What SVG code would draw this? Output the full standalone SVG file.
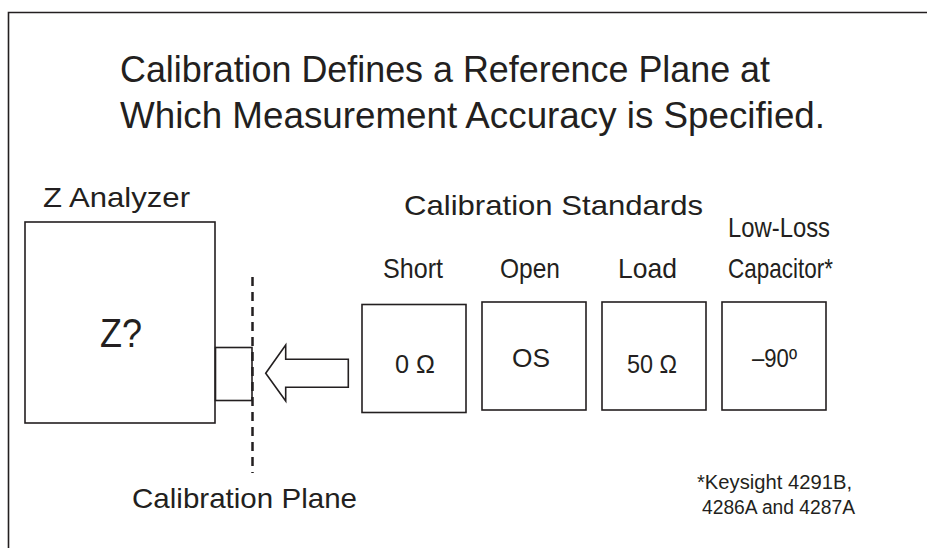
<svg xmlns="http://www.w3.org/2000/svg" width="927" height="548" viewBox="0 0 927 548">
<style>
text{font-family:"Liberation Sans Narrow","Liberation Sans",Arial,sans-serif;fill:#231f20}
.box{fill:#fff;stroke:#231f20;stroke-width:1.6}
.t1{font-size:37px}
.t2{font-size:28px}
.t3{font-size:25px}
.t4{font-size:20px}
</style>
<rect width="927" height="548" fill="#fff"/>
<path d="M8.5,548 V12.5 H927" fill="none" stroke="#231f20" stroke-width="1.6"/>
<g id="title">
<text class="t1" x="120" y="82" textLength="650" lengthAdjust="spacingAndGlyphs">Calibration Defines a Reference Plane at</text>
<text class="t1" x="120" y="128" textLength="705" lengthAdjust="spacingAndGlyphs">Which Measurement Accuracy is Specified.</text>
</g>
<g id="analyzer">
<text class="t2" x="43" y="207" textLength="147" lengthAdjust="spacingAndGlyphs">Z Analyzer</text>
<rect class="box" x="25" y="222" width="190" height="201"/>
<text x="100" y="347" font-size="41" textLength="42" lengthAdjust="spacingAndGlyphs">Z?</text>
<rect id="port" class="box" x="215.5" y="347.5" width="36.5" height="53"/>
</g>
<g id="plane">
<line x1="252.5" y1="277" x2="252.5" y2="473" stroke="#231f20" stroke-width="2.5" stroke-dasharray="9 6"/>
<text class="t2" x="132" y="508" textLength="225" lengthAdjust="spacingAndGlyphs">Calibration Plane</text>
</g>
<g id="connectors">
<polygon points="265.7,373.3 285.7,345 285.7,359.3 348.3,359.3 348.3,387.3 285.7,387.3 285.7,401" fill="#fff" stroke="#231f20" stroke-width="1.6" stroke-linejoin="miter"/>
</g>
<g id="standards-label">
<text class="t2" x="404" y="215" textLength="299" lengthAdjust="spacingAndGlyphs">Calibration Standards</text>
</g>
<g id="short">
<text class="t2" x="383" y="278" textLength="60" lengthAdjust="spacingAndGlyphs">Short</text>
<rect class="box" x="362" y="304.5" width="104" height="108"/>
<text class="t3" x="395" y="373" textLength="40" lengthAdjust="spacingAndGlyphs">0 Ω</text>
</g>
<g id="open">
<text class="t2" x="500" y="278" textLength="60" lengthAdjust="spacingAndGlyphs">Open</text>
<rect class="box" x="482" y="302" width="104" height="108"/>
<text class="t3" x="512" y="367" textLength="38" lengthAdjust="spacingAndGlyphs">OS</text>
</g>
<g id="load">
<text class="t2" x="618" y="278" textLength="59" lengthAdjust="spacingAndGlyphs">Load</text>
<rect class="box" x="602" y="302" width="104" height="108"/>
<text class="t3" x="627" y="373" textLength="50" lengthAdjust="spacingAndGlyphs">50 Ω</text>
</g>
<g id="capacitor">
<text class="t2" x="728" y="237" textLength="102" lengthAdjust="spacingAndGlyphs">Low-Loss</text>
<text class="t2" x="728" y="278" textLength="105" lengthAdjust="spacingAndGlyphs">Capacitor*</text>
<rect class="box" x="722" y="302" width="104" height="108"/>
<text class="t3" x="752" y="367" textLength="45" lengthAdjust="spacingAndGlyphs">–90º</text>
</g>
<g id="footnote">
<text class="t4" x="697" y="489" textLength="155" lengthAdjust="spacingAndGlyphs">*Keysight 4291B,</text>
<text class="t4" x="702" y="514" textLength="153" lengthAdjust="spacingAndGlyphs">4286A and 4287A</text>
</g>
</svg>
